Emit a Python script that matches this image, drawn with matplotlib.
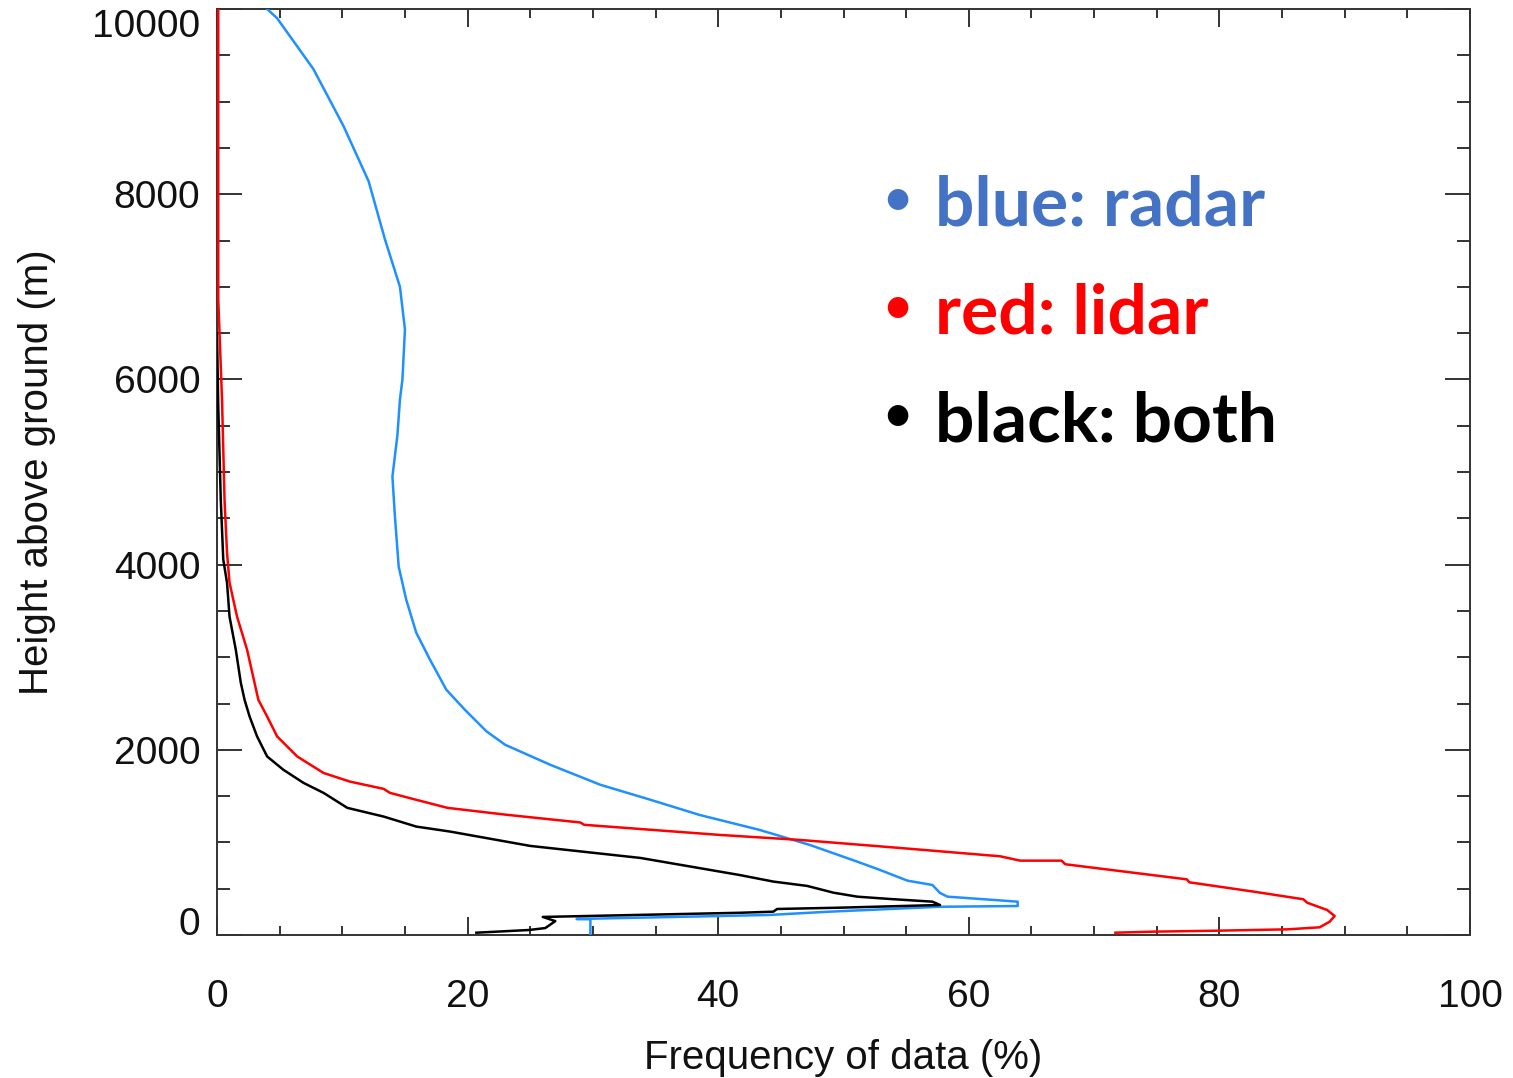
import numpy as np
from matplotlib import pyplot as plt
from matplotlib.ticker import MultipleLocator

plt.rcParams['font.family'] = 'Liberation Sans'

# radar profile (blue), heights in m, frequency in %
radar_height = [10000, 9900, 9350, 8735, 8140, 7514, 7000, 6540, 6000, 5784, 5400, 4951,
                4519, 3978, 3622, 3265, 2973, 2649, 2430, 2200, 2054, 1838, 1622, 1460,
                1297, 1135, 973, 792, 703, 587, 540, 454, 414, 360, 313, 305, 252, 216,
                173, 170, 0]
radar_freq = [4.0, 4.8, 7.7, 10.1, 12.1, 13.4, 14.6, 15.0, 14.8, 14.6, 14.4, 14.0,
              14.2, 14.5, 15.1, 15.9, 17.0, 18.3, 19.8, 21.5, 23.0, 26.6, 30.6, 34.6,
              38.5, 43.3, 47.3, 51.1, 52.9, 55.1, 57.1, 57.7, 58.3, 63.9, 63.9, 57.7, 48.9, 44.0,
              28.7, 29.8, 29.8]

# lidar profile (red)
lidar_height = [10000, 8000, 6865, 5784, 4703, 4130, 3805, 3438, 3081, 2540, 2360, 2144,
                1928, 1750, 1657, 1578, 1535, 1460, 1373, 1300, 1215, 1190, 1081, 1027, 940,
                850, 803, 803, 764, 601, 569, 469, 386, 349, 270, 205, 144, 83, 61, 47, 36, 25]
lidar_freq = [0.1, 0.1, 0.1, 0.4, 0.6, 0.8, 1.0, 1.6, 2.4, 3.3, 4.0, 4.8,
              6.4, 8.5, 10.6, 13.3, 13.8, 15.9, 18.4, 23.0, 29.0, 29.3, 40.1, 46.5, 54.5,
              62.5, 64.1, 67.4, 67.7, 77.4, 77.6, 82.7, 86.7, 87.0, 88.6, 89.2, 88.8, 88.0, 85.4, 80.0, 74.7, 71.7]

# both instruments (black)
both_height = [6500, 5711, 4703, 4054, 3805, 3438, 3081, 2724, 2540, 2360, 2144, 1928,
               1784, 1643, 1535, 1373, 1279, 1171, 1117, 962, 832, 648, 577, 530, 457,
               414, 389, 360, 324, 295, 281, 252, 240, 195, 150, 75, 54, 25]
both_freq = [0.0, 0.1, 0.3, 0.5, 0.8, 1.0, 1.5, 1.9, 2.2, 2.6, 3.2, 4.0,
             5.3, 6.9, 8.5, 10.4, 13.3, 15.9, 18.6, 25.0, 33.8, 41.7, 44.4, 47.1, 49.2,
             51.1, 53.7, 57.1, 57.7, 49.7, 44.7, 44.4, 41.7, 26.0, 27.0, 26.2, 24.9, 20.7]

x_ticks = [0, 20, 40, 60, 80, 100]
y_ticks = [0, 2000, 4000, 6000, 8000, 10000]

legend_lines = ['blue: radar', 'red: lidar', 'black: both']
legend_colors = ['#4472C4', '#FF0000', '#000000']

W, H = 1513, 1078
fig = plt.figure(figsize=(W / 100, H / 100), dpi=100)
ax = fig.add_axes([217 / W, 1 - 935 / H, (1470 - 217) / W, (935 - 9) / H])

ax.plot(radar_freq, radar_height, color='#1E90FF', lw=1.8, zorder=3)
ax.plot(lidar_freq, lidar_height, color='#FF0000', lw=1.8, zorder=3.2)
ax.plot(both_freq, both_height, color='black', lw=1.8, zorder=3.1)

ax.set_xlim(0, 100)
ax.set_ylim(0, 10000)
ax.set_xticks(x_ticks)
ax.set_yticks(y_ticks)
ax.xaxis.set_minor_locator(MultipleLocator(5))
ax.yaxis.set_minor_locator(MultipleLocator(500))

for s in ax.spines.values():
    s.set_color('#333333')
    s.set_linewidth(1.4)

ax.tick_params(axis='both', which='both', direction='in', top=True, right=True,
               color='#333333', width=1.4, labelsize=28, labelcolor='#111111')
ax.tick_params(axis='x', which='major', length=13, pad=32)
ax.tick_params(axis='x', which='minor', length=6.5)
ax.tick_params(axis='y', which='major', length=18, pad=12)
ax.tick_params(axis='y', which='minor', length=9.5)

ax.set_xlabel('Frequency of data (%)', fontsize=29, labelpad=17, color='#111111')
ax.set_ylabel('Height above ground (m)', fontsize=29, labelpad=26, color='#111111')

# IDL keeps the end labels inside the axis range
ylabels = ax.get_yticklabels()
ylabels[0].set_va('baseline')
ylabels[-1].set_va('top')

for i, (txt, col) in enumerate(zip(legend_lines, legend_colors)):
    yb = 1 - (225 + 108 * i) / H
    fig.text(897 / W, 1 - (200 + 108 * i) / H, '•', color=col, fontsize=40,
             family='Lato', ha='center', va='center')
    fig.text(935 / W, yb, txt, color=col, fontsize=50, fontweight='bold',
             family='Lato', ha='left', va='baseline')

fig.savefig('out.png', dpi=100)
